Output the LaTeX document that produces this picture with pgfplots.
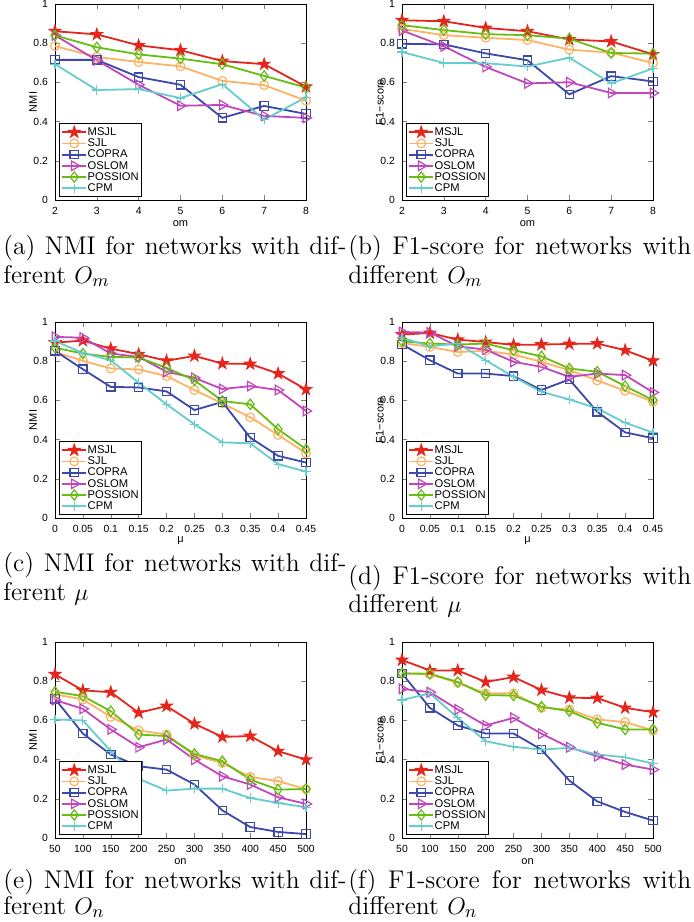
\documentclass[border=0pt]{standalone}
\usepackage{fontspec}
\usepackage{pgfplots}
\pgfplotsset{compat=1.18}
\newfontfamily\axfont{Liberation Sans}
\newcommand\capfont{\fontsize{12.8}{13.5}\selectfont}

\definecolor{cMSJL}{RGB}{228,38,28}
\definecolor{cSJL}{RGB}{253,179,102}
\definecolor{cCOPRA}{RGB}{60,72,170}
\definecolor{cOSLOM}{RGB}{192,72,188}
\definecolor{cPOSS}{RGB}{102,190,20}
\definecolor{cCPM}{RGB}{102,204,204}

% filled five-pointed star, like matlab's pentagram
\pgfdeclareplotmark{pstar}{%
  \pgfpathmoveto{\pgfpointpolar{90}{\pgfplotmarksize}}%
  \pgfpathlineto{\pgfpointpolar{126}{0.382*\pgfplotmarksize}}%
  \pgfpathlineto{\pgfpointpolar{162}{\pgfplotmarksize}}%
  \pgfpathlineto{\pgfpointpolar{198}{0.382*\pgfplotmarksize}}%
  \pgfpathlineto{\pgfpointpolar{234}{\pgfplotmarksize}}%
  \pgfpathlineto{\pgfpointpolar{270}{0.382*\pgfplotmarksize}}%
  \pgfpathlineto{\pgfpointpolar{306}{\pgfplotmarksize}}%
  \pgfpathlineto{\pgfpointpolar{342}{0.382*\pgfplotmarksize}}%
  \pgfpathlineto{\pgfpointpolar{18}{\pgfplotmarksize}}%
  \pgfpathlineto{\pgfpointpolar{54}{0.382*\pgfplotmarksize}}%
  \pgfpathclose
  \pgfusepathqfillstroke}

\pgfplotsset{
  panel/.style={
    scale only axis, width=125.5pt, height=98pt, anchor=south west,
    ymin=0, ymax=1, ytick={0,0.2,0.4,0.6,0.8,1},
    tick align=inside, major tick length=2.5pt,
    tick label style={font=\axfont\fontsize{5.2}{6}\selectfont},
    /pgf/number format/assume math mode=true,
    every axis x label/.style={at={(axis description cs:0.5,-0.118)}, anchor=center,
      font=\axfont\fontsize{5.5}{6.6}\selectfont},
    every axis y label/.style={at={(axis description cs:-0.0876,0.5)}, anchor=center,
      rotate=90, font=\axfont\fontsize{5.5}{6.6}\selectfont},
    clip=false,
    legend cell align=left,
    legend style={at={(0,0)}, anchor=south west, xshift=2pt, yshift=1.5pt,
      draw=black, inner sep=1pt, row sep=-0.8pt,
      nodes={inner sep=0.3pt, text height=4.5pt, text depth=1.3pt},
      font=\axfont\fontsize{5.6}{6}\selectfont},
    legend image code/.code={\draw[mark repeat=2,mark phase=2]
      plot coordinates {(0cm,0cm) (0.21cm,0cm) (0.42cm,0cm)};},
  },
  sMSJL/.style={color=cMSJL, line width=0.9pt, mark=pstar, mark size=3pt,
    mark options={fill=cMSJL, line width=0.5pt}},
  sSJL/.style={color=cSJL, line width=0.9pt, mark=o, mark size=2.2pt,
    mark options={line width=0.6pt}},
  sCOPRA/.style={color=cCOPRA, line width=0.9pt, mark=square, mark size=2.1pt,
    mark options={line width=0.6pt}},
  sOSLOM/.style={color=cOSLOM, line width=0.9pt, mark=triangle, mark size=2.8pt,
    mark options={line width=0.6pt, rotate=-90}},
  sPOSS/.style={color=cPOSS, line width=0.9pt, mark=diamond, mark size=2.6pt,
    mark options={line width=0.6pt}},
  sCPM/.style={color=cCPM, line width=0.9pt, mark=+, mark size=2.3pt,
    mark options={line width=0.6pt}},
}

\begin{document}
\begin{tikzpicture}
\useasboundingbox (0,0) rectangle (347pt,-461pt);

% (a) NMI vs om
\begin{axis}[panel, at={(27.5pt,-100pt)}, xmin=2, xmax=8, xtick={2,...,8},
  xlabel={om}, ylabel={NMI}]
\addplot[sMSJL] coordinates {(2,0.861) (3,0.845) (4,0.789) (5,0.764) (6,0.709) (7,0.693) (8,0.578)};
\addplot[sSJL] coordinates {(2,0.785) (3,0.730) (4,0.704) (5,0.682) (6,0.608) (7,0.586) (8,0.507)};
\addplot[sCOPRA] coordinates {(2,0.715) (3,0.715) (4,0.627) (5,0.588) (6,0.419) (7,0.480) (8,0.439)};
\addplot[sOSLOM] coordinates {(2,0.840) (3,0.713) (4,0.588) (5,0.481) (6,0.485) (7,0.429) (8,0.419)};
\addplot[sPOSS] coordinates {(2,0.840) (3,0.779) (4,0.743) (5,0.721) (6,0.693) (7,0.633) (8,0.574)};
\addplot[sCPM] coordinates {(2,0.693) (3,0.561) (4,0.566) (5,0.520) (6,0.591) (7,0.410) (8,0.524)};
\legend{MSJL,SJL,COPRA,OSLOM,POSSION,CPM}
\end{axis}

% (b) F1 vs om
\begin{axis}[panel, at={(201pt,-100pt)}, xmin=2, xmax=8, xtick={2,...,8},
  xlabel={om}, ylabel={F1−score}]
\addplot[sMSJL] coordinates {(2,0.917) (3,0.912) (4,0.878) (5,0.861) (6,0.819) (7,0.809) (8,0.743)};
\addplot[sSJL] coordinates {(2,0.873) (3,0.841) (4,0.828) (5,0.816) (6,0.767) (7,0.752) (8,0.699)};
\addplot[sCOPRA] coordinates {(2,0.797) (3,0.794) (4,0.748) (5,0.713) (6,0.539) (7,0.632) (8,0.605)};
\addplot[sOSLOM] coordinates {(2,0.865) (3,0.784) (4,0.679) (5,0.595) (6,0.601) (7,0.546) (8,0.546)};
\addplot[sPOSS] coordinates {(2,0.892) (3,0.867) (4,0.846) (5,0.841) (6,0.823) (7,0.750) (8,0.747)};
\addplot[sCPM] coordinates {(2,0.755) (3,0.699) (4,0.698) (5,0.681) (6,0.726) (7,0.595) (8,0.671)};
\legend{MSJL,SJL,COPRA,OSLOM,POSSION,CPM}
\end{axis}

% (c) NMI vs mu
\begin{axis}[panel, at={(27.5pt,-259pt)}, xmin=0, xmax=0.45,
  xtick={0,0.05,0.1,0.15,0.2,0.25,0.3,0.35,0.4,0.45},
  xticklabels={0,0.05,0.1,0.15,0.2,0.25,0.3,0.35,0.4,0.45},
  xlabel={μ}, ylabel={NMI}]
\addplot[sMSJL] coordinates {(0,0.895) (0.05,0.905) (0.1,0.864) (0.15,0.836) (0.2,0.802) (0.25,0.827) (0.3,0.788) (0.35,0.786) (0.4,0.737) (0.45,0.656)};
\addplot[sSJL] coordinates {(0,0.847) (0.05,0.802) (0.1,0.763) (0.15,0.758) (0.2,0.724) (0.25,0.653) (0.3,0.585) (0.35,0.514) (0.4,0.424) (0.45,0.331)};
\addplot[sCOPRA] coordinates {(0,0.853) (0.05,0.759) (0.1,0.669) (0.15,0.666) (0.2,0.646) (0.25,0.551) (0.3,0.592) (0.35,0.410) (0.4,0.317) (0.45,0.283)};
\addplot[sOSLOM] coordinates {(0,0.924) (0.05,0.920) (0.1,0.839) (0.15,0.822) (0.2,0.746) (0.25,0.715) (0.3,0.658) (0.35,0.673) (0.4,0.653) (0.45,0.546)};
\addplot[sPOSS] coordinates {(0,0.869) (0.05,0.839) (0.1,0.822) (0.15,0.819) (0.2,0.766) (0.25,0.703) (0.3,0.597) (0.35,0.580) (0.4,0.453) (0.45,0.351)};
\addplot[sCPM] coordinates {(0,0.903) (0.05,0.842) (0.1,0.805) (0.15,0.690) (0.2,0.580) (0.25,0.478) (0.3,0.386) (0.35,0.381) (0.4,0.275) (0.45,0.237)};
\legend{MSJL,SJL,COPRA,OSLOM,POSSION,CPM}
\end{axis}

% (d) F1 vs mu
\begin{axis}[panel, at={(201pt,-259pt)}, xmin=0, xmax=0.45,
  xtick={0,0.05,0.1,0.15,0.2,0.25,0.3,0.35,0.4,0.45},
  xticklabels={0,0.05,0.1,0.15,0.2,0.25,0.3,0.35,0.4,0.45},
  xlabel={μ}, ylabel={F1−score}]
\addplot[sMSJL] coordinates {(0,0.936) (0.05,0.944) (0.1,0.910) (0.15,0.898) (0.2,0.883) (0.25,0.885) (0.3,0.888) (0.35,0.890) (0.4,0.856) (0.45,0.802)};
\addplot[sSJL] coordinates {(0,0.893) (0.05,0.873) (0.1,0.847) (0.15,0.853) (0.2,0.834) (0.25,0.797) (0.3,0.754) (0.35,0.702) (0.4,0.649) (0.45,0.593)};
\addplot[sCOPRA] coordinates {(0,0.886) (0.05,0.805) (0.1,0.737) (0.15,0.737) (0.2,0.724) (0.25,0.653) (0.3,0.707) (0.35,0.542) (0.4,0.437) (0.45,0.407)};
\addplot[sOSLOM] coordinates {(0,0.949) (0.05,0.946) (0.1,0.876) (0.15,0.859) (0.2,0.797) (0.25,0.771) (0.3,0.720) (0.35,0.737) (0.4,0.729) (0.45,0.641)};
\addplot[sPOSS] coordinates {(0,0.902) (0.05,0.890) (0.1,0.885) (0.15,0.890) (0.2,0.856) (0.25,0.825) (0.3,0.763) (0.35,0.746) (0.4,0.673) (0.45,0.602)};
\addplot[sCPM] coordinates {(0,0.920) (0.05,0.876) (0.1,0.890) (0.15,0.805) (0.2,0.720) (0.25,0.644) (0.3,0.605) (0.35,0.559) (0.4,0.486) (0.45,0.436)};
\legend{MSJL,SJL,COPRA,OSLOM,POSSION,CPM}
\end{axis}

% (e) NMI vs on
\begin{axis}[panel, at={(27.5pt,-419pt)}, xmin=50, xmax=500,
  xtick={50,100,...,500}, xlabel={on}, ylabel={NMI}]
\addplot[sMSJL] coordinates {(50,0.835) (100,0.753) (150,0.744) (200,0.639) (250,0.673) (300,0.583) (350,0.516) (400,0.520) (450,0.443) (500,0.400)};
\addplot[sSJL] coordinates {(50,0.733) (100,0.707) (150,0.618) (200,0.549) (250,0.528) (300,0.421) (350,0.383) (400,0.312) (450,0.290) (500,0.250)};
\addplot[sCOPRA] coordinates {(50,0.710) (100,0.533) (150,0.426) (200,0.366) (250,0.349) (300,0.273) (350,0.141) (400,0.056) (450,0.031) (500,0.020)};
\addplot[sOSLOM] coordinates {(50,0.704) (100,0.659) (150,0.554) (200,0.463) (250,0.503) (300,0.400) (350,0.315) (400,0.273) (450,0.208) (500,0.174)};
\addplot[sPOSS] coordinates {(50,0.746) (100,0.724) (150,0.647) (200,0.528) (250,0.520) (300,0.429) (350,0.392) (400,0.298) (450,0.247) (500,0.250)};
\addplot[sCPM] coordinates {(50,0.605) (100,0.600) (150,0.443) (200,0.302) (250,0.242) (300,0.252) (350,0.252) (400,0.204) (450,0.179) (500,0.157)};
\legend{MSJL,SJL,COPRA,OSLOM,POSSION,CPM}
\end{axis}

% (f) F1 vs on
\begin{axis}[panel, at={(201pt,-419pt)}, xmin=50, xmax=500,
  xtick={50,100,...,500}, xlabel={on}, ylabel={F1−score}]
\addplot[sMSJL] coordinates {(50,0.908) (100,0.855) (150,0.855) (200,0.796) (250,0.821) (300,0.755) (350,0.716) (400,0.714) (450,0.664) (500,0.642)};
\addplot[sSJL] coordinates {(50,0.840) (100,0.835) (150,0.792) (200,0.738) (250,0.738) (300,0.664) (350,0.656) (400,0.605) (450,0.591) (500,0.549)};
\addplot[sCOPRA] coordinates {(50,0.840) (100,0.664) (150,0.574) (200,0.533) (250,0.533) (300,0.451) (350,0.293) (400,0.187) (450,0.133) (500,0.089)};
\addplot[sOSLOM] coordinates {(50,0.761) (100,0.744) (150,0.656) (200,0.574) (250,0.613) (300,0.532) (350,0.463) (400,0.417) (450,0.375) (500,0.349)};
\addplot[sPOSS] coordinates {(50,0.840) (100,0.838) (150,0.796) (200,0.729) (250,0.727) (300,0.670) (350,0.647) (400,0.588) (450,0.554) (500,0.554)};
\addplot[sCPM] coordinates {(50,0.704) (100,0.738) (150,0.613) (200,0.494) (250,0.465) (300,0.451) (350,0.460) (400,0.426) (450,0.412) (500,0.380)};
\legend{MSJL,SJL,COPRA,OSLOM,POSSION,CPM}
\end{axis}

% captions
\begin{scope}[every node/.style={anchor=base west, inner sep=0pt, font=\capfont}]
\node at (1.5pt,-127pt) {\makebox[171.5pt][s]{(a) NMI for networks with dif-}};
\node at (1.5pt,-141.5pt) {ferent $O_m$};
\node at (174pt,-127pt) {\makebox[171.5pt][s]{(b) F1-score for networks with}};
\node at (174pt,-141.5pt) {different $O_m$};
\node at (1.5pt,-285.5pt) {\makebox[171.5pt][s]{(c) NMI for networks with dif-}};
\node at (1.5pt,-300pt) {ferent $\mu$};
\node at (174pt,-292pt) {\makebox[171.5pt][s]{(d) F1-score for networks with}};
\node at (174pt,-306pt) {different $\mu$};
\node at (1.5pt,-444pt) {\makebox[171.5pt][s]{(e) NMI for networks with dif-}};
\node at (1.5pt,-457pt) {ferent $O_n$};
\node at (174pt,-444pt) {\makebox[171.5pt][s]{(f) F1-score for networks with}};
\node at (174pt,-457pt) {different $O_n$};
\end{scope}
\end{tikzpicture}
\end{document}
